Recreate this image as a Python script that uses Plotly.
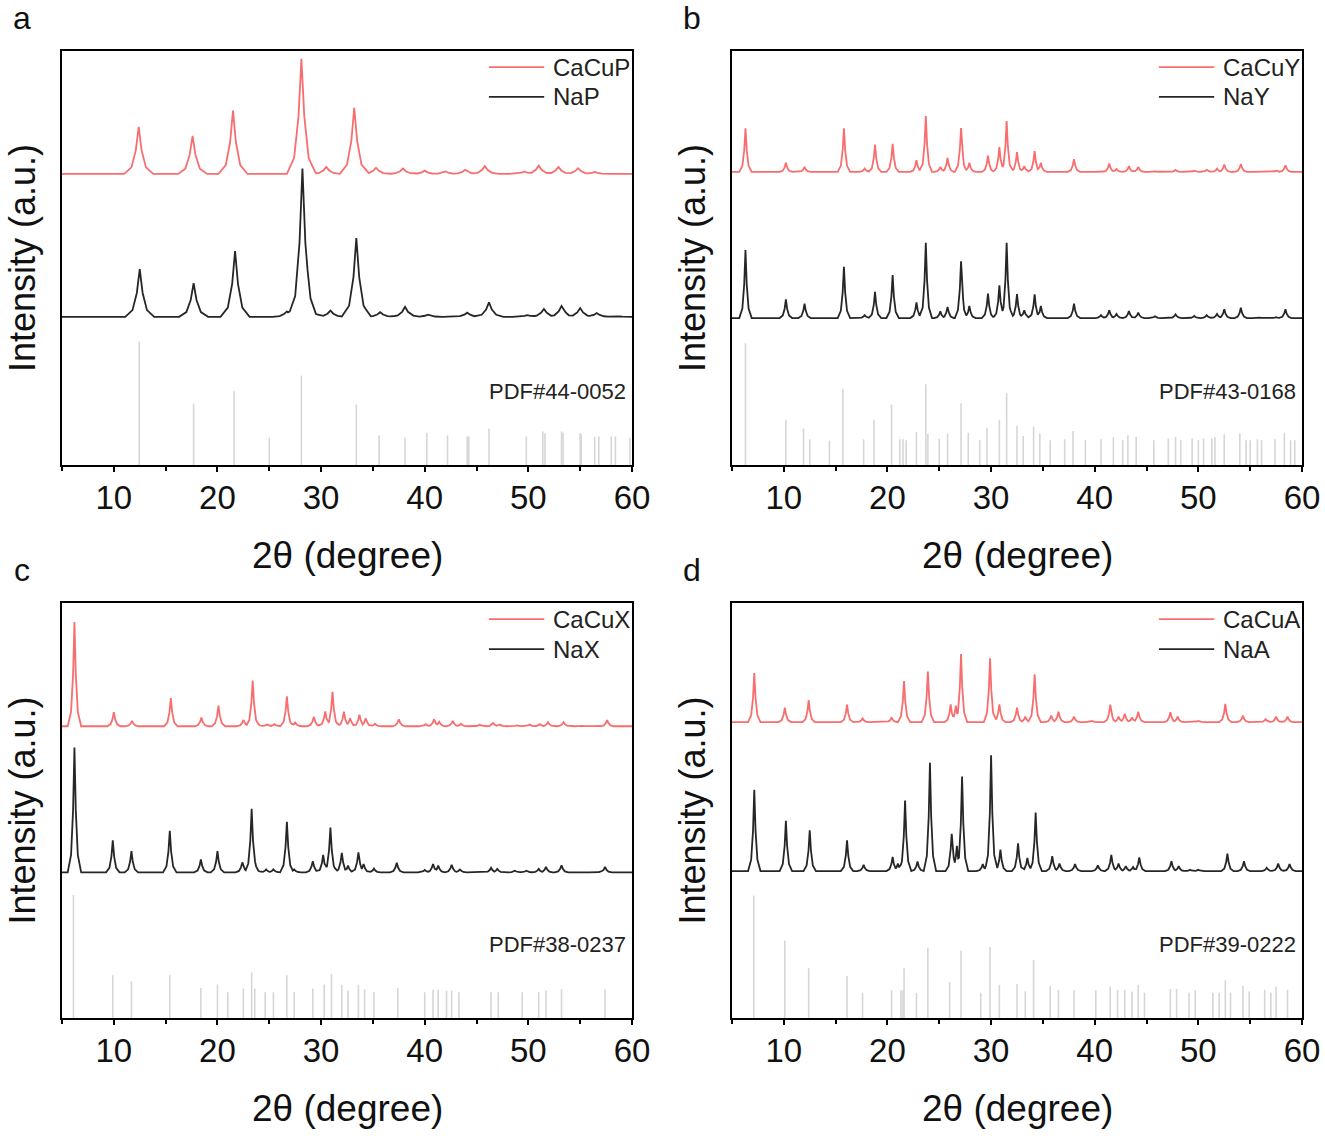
import numpy as np
import plotly.graph_objects as go
from plotly.subplots import make_subplots

# peak positions (2theta, deg) and apex levels (0-100 of panel height)

# panel a : CaCuP / NaP / PDF#44-0052
a_cacu_pos = [12.4, 17.6, 21.5, 28.1, 30.5, 33.2, 35.3, 37.9, 40.0, 42.0, 43.9, 45.8, 49.6, 51.0, 52.9, 54.8, 56.4]
a_cacu_top = [81.7, 79.5, 85.6, 98.1, 72.0, 86.3, 71.8, 71.6, 71.1, 70.9, 71.3, 72.2, 70.9, 72.3, 72.0, 71.7, 70.8]
a_cacu_base = 70.3
a_na_pos = [12.5, 17.7, 21.7, 26.7, 28.2, 28.7, 30.9, 33.4, 35.7, 38.1, 40.3, 44.1, 46.2, 49.9, 51.5, 53.2, 55.0, 56.6, 58.4]
a_na_top = [47.3, 43.9, 51.7, 37.1, 71.6, 41.5, 37.3, 54.8, 36.9, 38.2, 36.3, 36.8, 39.3, 36.2, 37.7, 38.4, 37.9, 36.7, 36.0]
a_na_base = 35.8
a_pdf_pos = [12.45, 17.7, 21.6, 25.0, 28.1, 33.4, 35.6, 38.1, 40.2, 42.2, 44.1, 44.25, 46.2, 49.8, 51.4,
             51.6, 53.2, 53.35, 55.0, 55.1, 56.4, 56.8, 58.0, 58.4, 59.8]
a_pdf_int = [29.8, 14.8, 17.8, 6.6, 21.6, 14.6, 7.1, 6.6, 7.7, 7.1, 6.9, 6.9, 8.8, 6.9, 8.1,
             7.6, 8.1, 7.8, 7.7, 7.4, 6.8, 6.9, 6.9, 6.9, 6.6]

# panel b : CaCuY / NaY / PDF#43-0168
b_pos = [6.3, 10.2, 12.0, 15.8, 17.8, 18.8, 20.5, 22.8, 23.7, 25.1, 25.8, 27.1, 27.9, 29.7, 30.8, 31.5, 32.5, 33.2,
         34.2, 34.8, 38.0, 40.6, 41.4, 42.1, 43.3, 44.2, 45.8, 47.8, 49.6, 50.8, 51.8, 52.5, 54.1, 55.8, 57.5, 58.4]
b_cacu_top = [81.3, 73.0, 72.0, 81.3, 71.6, 77.4, 77.6, 73.6, 84.3, 72.0, 74.2, 81.4, 73.0, 74.7, 76.8, 83.1, 75.6, 72.2,
              75.8, 73.0, 73.9, 71.0, 72.8, 71.5, 72.2, 72.0, 71.0, 71.3, 71.1, 71.3, 71.6, 72.6, 72.7, 70.9, 71.1, 72.4]
b_cacu_base = 70.8
b_na_top = [51.9, 40.0, 39.0, 47.9, 36.2, 41.8, 45.9, 39.3, 53.7, 37.1, 38.2, 49.2, 38.4, 41.4, 43.4, 53.7, 41.3, 37.4,
            41.2, 38.4, 39.0, 36.2, 37.4, 36.5, 37.2, 36.8, 35.9, 36.4, 36.0, 36.2, 36.5, 37.6, 38.0, 35.7, 35.7, 37.6]
b_na_base = 35.5
b_pdf_pos = [6.3, 10.2, 11.9, 12.5, 14.4, 15.7, 17.7, 18.7, 20.4, 21.2, 21.5, 21.8, 22.8, 23.7, 23.9, 25.0, 25.8, 27.1,
             27.8, 28.9, 29.6, 30.8, 31.5, 32.5, 33.1, 34.1, 34.7, 35.7, 37.1, 37.9, 39.1, 40.6, 41.8, 42.7, 43.2, 44.0,
             45.7, 47.1, 47.8, 48.3, 49.4, 50.0, 50.5, 51.3, 51.6, 52.5, 54.0, 54.6, 55.0, 55.7, 56.1, 57.4, 58.3, 58.9, 59.3]
b_pdf_int = [29.4, 10.9, 8.8, 6.2, 5.9, 18.3, 6.2, 10.9, 14.6, 6.2, 6.2, 6.0, 8.0, 19.5, 7.5, 6.4, 7.6, 14.9,
             7.8, 6.0, 9.0, 10.9, 17.3, 9.4, 7.0, 9.3, 7.6, 6.0, 6.2, 8.2, 6.0, 6.2, 6.7, 6.0, 7.2, 6.8,
             6.0, 6.4, 6.8, 6.0, 6.4, 6.0, 6.4, 6.4, 6.7, 7.4, 7.6, 6.0, 6.0, 6.2, 6.0, 6.2, 7.8, 6.0, 6.0]

# panel c : CaCuX / NaX / PDF#38-0237
c_cacu_pos = [6.2, 10.0, 11.75, 15.5, 18.45, 20.1, 22.5, 23.4, 23.7, 24.8, 25.5, 26.7, 27.5, 29.3, 30.4, 31.1, 32.2, 32.8, 33.7,
              34.3, 35.2, 37.5, 40.1, 40.9, 41.4, 42.7, 43.5, 45.3, 46.6, 47.2, 48.9, 50.1, 51.1, 51.9, 53.4, 55.1, 56.7, 57.6]
c_cacu_top = [95.4, 73.7, 71.6, 77.1, 72.4, 75.3, 71.8, 81.3, 72.0, 70.8, 70.8, 77.5, 71.2, 72.6, 73.9, 78.6, 73.8, 72.2, 73.1,
              72.2, 70.9, 72.0, 70.8, 72.0, 71.4, 71.6, 70.9, 70.7, 71.1, 70.8, 70.5, 70.7, 70.8, 71.3, 71.3, 70.5, 70.4, 71.8]
c_cacu_base = 70.3
c_na_pos = [6.2, 9.9, 11.7, 15.4, 18.4, 20.0, 22.4, 23.3, 23.6, 24.7, 25.4, 26.7, 27.4, 29.2, 30.2, 30.9, 32.0, 32.6, 33.6,
            34.1, 35.1, 37.3, 40.0, 40.8, 41.3, 42.6, 43.4, 46.4, 47.0, 48.7, 49.8, 51.0, 51.7, 53.2, 56.5, 57.4, 58.8]
c_na_top = [65.2, 42.8, 40.2, 45.1, 38.2, 40.2, 37.5, 50.4, 38.0, 35.8, 35.8, 47.3, 35.8, 37.8, 39.3, 45.9, 39.8, 36.7, 39.9,
            37.1, 36.0, 37.4, 35.7, 37.1, 36.7, 36.9, 35.8, 36.2, 35.9, 35.5, 35.5, 35.9, 36.4, 36.8, 35.3, 36.4, 35.2]
c_na_base = 35.1
c_pdf_pos = [6.1, 9.9, 11.7, 15.4, 18.4, 20.0, 21.0, 22.5, 23.3, 23.6, 24.6, 25.4, 26.7, 27.4, 29.2, 30.3, 31.0, 32.0,
             32.6, 33.6, 34.2, 35.1, 37.4, 40.0, 40.8, 41.3, 42.1, 42.6, 43.3, 46.4, 47.1, 49.4, 51.0, 51.7, 53.2, 57.4]
c_pdf_int = [29.6, 10.3, 8.8, 10.3, 7.2, 8.1, 6.2, 7.1, 11.0, 7.1, 6.2, 6.2, 10.3, 6.2, 7.1, 8.1, 10.6, 8.0,
             6.6, 8.0, 6.9, 6.2, 7.2, 6.2, 6.8, 6.8, 6.6, 6.6, 6.2, 6.2, 6.2, 6.2, 6.2, 6.6, 6.9, 6.9]

# panel d : CaCuA / NaA / PDF#39-0222
d_cacu_pos = [7.15, 10.1, 12.4, 16.1, 17.6, 20.4, 21.6, 23.9, 26.1, 26.6, 27.1, 29.9, 30.8, 32.5, 33.3, 34.2, 35.8,
              36.5, 38.0, 39.7, 41.5, 42.3, 42.9, 43.6, 44.2, 47.3, 48.0, 50.0, 52.6, 54.3, 56.5, 57.5, 58.6]
d_cacu_top = [83.1, 74.8, 76.6, 75.5, 72.2, 72.4, 81.2, 83.5, 75.6, 75.3, 87.7, 86.7, 75.6, 74.8, 72.6, 82.8, 72.9,
              73.8, 72.6, 71.6, 75.5, 72.6, 73.3, 72.4, 73.8, 73.7, 72.6, 71.6, 75.7, 72.9, 72.0, 72.6, 72.6]
d_cacu_base = 71.3
d_na_pos = [7.15, 10.2, 12.5, 16.1, 17.7, 20.5, 21.0, 21.7, 22.9, 24.1, 26.2, 26.7, 27.2, 29.2, 30.0, 30.9, 32.6, 33.5, 34.3,
            35.9, 36.6, 38.1, 40.3, 41.6, 42.3, 43.0, 43.7, 44.3, 47.4, 48.1, 49.2, 50.0, 52.8, 54.4, 56.6, 57.7, 58.8]
d_na_top = [55.0, 47.5, 45.2, 42.8, 36.9, 38.8, 37.2, 52.4, 37.7, 61.5, 44.4, 41.5, 58.2, 37.1, 63.3, 40.6, 42.1, 38.6, 49.5,
            39.0, 37.2, 37.1, 36.8, 39.3, 37.2, 36.6, 36.4, 38.7, 37.8, 36.6, 35.7, 35.7, 39.6, 37.8, 36.2, 37.2, 37.1]
d_na_base = 35.4
d_pdf_pos = [7.1, 10.1, 12.4, 16.1, 17.6, 20.4, 21.3, 21.5, 21.6, 22.8, 23.9, 26.0, 27.1, 29.0, 29.9, 30.8, 32.5, 33.3,
             34.1, 35.7, 36.5, 38.0, 40.1, 41.5, 42.2, 42.9, 43.6, 44.2, 44.8, 47.3, 47.9, 49.1, 49.7, 51.4, 52.0, 52.6,
             53.1, 54.3, 54.9, 56.4, 57.0, 57.5, 58.6]
d_pdf_int = [29.5, 18.7, 12.0, 10.1, 6.1, 6.7, 6.7, 6.7, 12.0, 6.0, 16.9, 8.6, 16.2, 6.0, 17.1, 8.0, 8.2, 6.4,
             14.0, 7.7, 6.8, 6.7, 6.7, 7.6, 6.8, 6.8, 6.4, 8.0, 6.1, 7.0, 7.0, 6.1, 6.7, 6.1, 6.1, 9.1,
             6.1, 7.7, 6.4, 6.8, 6.1, 7.6, 6.8]

tick_vals = [10, 20, 30, 40, 50, 60]

RED = "#F86E6E"
BLACK = "#262626"
GREY = "#D6D6D6"
FONT = "Liberation Sans, Arial, sans-serif"
W, H = 1325, 1136


def xrd_line(pos, top, base, hw):
    # each read peak drawn as a narrow polyline around its apex
    offs = np.array([-5, -2.5, -1, 0, 1, 2.5, 5]) * hw
    frac = np.array([0, 0.14, 0.5, 1, 0.5, 0.14, 0])
    xs = np.concatenate([[5.0, 60.0]] + [p + offs for p in pos])
    xs = np.unique(xs[(xs >= 5) & (xs <= 60)])
    ys = np.zeros_like(xs)
    for p, t in zip(pos, top):
        ys = np.maximum(ys, np.interp(xs, p + offs, max(t - base, 0) * frac, left=0, right=0))
    return xs, ys + base


def sticks(pos, height):
    xs, ys = [], []
    for p, h in zip(pos, height):
        xs += [p, p, None]
        ys += [0, h, None]
    return xs, ys


panels = [
    ("a", 1, 1, "CaCuP", a_cacu_pos, a_cacu_top, a_cacu_base, "NaP", a_na_pos, a_na_top, a_na_base,
     "PDF#44-0052", a_pdf_pos, a_pdf_int, 0.28),
    ("b", 1, 2, "CaCuY", b_pos, b_cacu_top, b_cacu_base, "NaY", b_pos, b_na_top, b_na_base,
     "PDF#43-0168", b_pdf_pos, b_pdf_int, 0.12),
    ("c", 2, 1, "CaCuX", c_cacu_pos, c_cacu_top, c_cacu_base, "NaX", c_na_pos, c_na_top, c_na_base,
     "PDF#38-0237", c_pdf_pos, c_pdf_int, 0.13),
    ("d", 2, 2, "CaCuA", d_cacu_pos, d_cacu_top, d_cacu_base, "NaA", d_na_pos, d_na_top, d_na_base,
     "PDF#39-0222", d_pdf_pos, d_pdf_int, 0.12),
]

# plot boxes in pixels: left, right, top, bottom
boxes = {"a": (62, 632, 51, 465), "b": (732, 1302, 51, 465),
         "c": (62, 632, 603, 1018), "d": (732, 1302, 603, 1018)}

fig = make_subplots(rows=2, cols=2)
annotations = []
shapes = []

for i, (letter, row, col, cname, cpos, ctop, cbase, nname, npos, ntop, nbase,
        pdfname, ppos, pint, hw) in enumerate(panels):
    x, y = xrd_line(cpos, ctop, cbase, hw)
    fig.add_trace(go.Scatter(x=x, y=y, mode="lines", name=cname, showlegend=False,
                             line=dict(color=RED, width=1.8)), row=row, col=col)
    x, y = xrd_line(npos, ntop, nbase, hw)
    fig.add_trace(go.Scatter(x=x, y=y, mode="lines", name=nname, showlegend=False,
                             line=dict(color=BLACK, width=1.8)), row=row, col=col)
    x, y = sticks(ppos, pint)
    fig.add_trace(go.Scatter(x=x, y=y, mode="lines", name=pdfname, showlegend=False,
                             line=dict(color=GREY, width=1.6)), row=row, col=col)

    l, r, t, b = boxes[letter]
    ax = "" if i == 0 else str(i + 1)
    fig.layout["xaxis" + ax].domain = [l / W, r / W]
    fig.layout["yaxis" + ax].domain = [(H - b) / H, (H - t) / H]

    xd = "x" + ax + " domain"
    yd = "y" + ax + " domain"
    # legend drawn by hand: sample line + label, two rows
    for name, color, yy in [(cname, RED, 0.961), (nname, BLACK, 0.889)]:
        shapes.append(dict(type="line", xref=xd, yref=yd, x0=0.749, x1=0.846, y0=yy, y1=yy,
                           line=dict(color=color, width=1.8)))
        annotations.append(dict(text=name, x=0.858, y=yy, xref=xd, yref=yd, xanchor="left",
                                yanchor="middle", showarrow=False,
                                font=dict(family=FONT, size=24, color="#222")))
    annotations.append(dict(text=pdfname, x=59.6, y=17.8, xref="x" + ax, yref="y" + ax, xanchor="right",
                            yanchor="middle", showarrow=False,
                            font=dict(family=FONT, size=22, color="#222")))
    annotations.append(dict(text="2θ (degree)", x=0.5, y=0, xref=xd, yref=yd,
                            yshift=-90, xanchor="center", yanchor="middle", showarrow=False,
                            font=dict(family=FONT, size=37, color="#111")))
    annotations.append(dict(text="Intensity (a.u.)", x=0, y=0.5, xref=xd, yref=yd,
                            xshift=-40, textangle=-90, xanchor="center", yanchor="middle", showarrow=False,
                            font=dict(family=FONT, size=36, color="#111")))
    annotations.append(dict(text=letter, x=(l - 40) / W, y=(H - t + 33) / H, xref="paper", yref="paper",
                            xanchor="center", yanchor="middle", showarrow=False,
                            font=dict(family=FONT, size=32, color="#111")))

fig.update_xaxes(range=[5, 60], tickvals=tick_vals, ticks="outside", ticklen=5, tickwidth=2,
                 tickcolor="black", showline=True, linecolor="black", linewidth=2, mirror=True,
                 showgrid=False, zeroline=False, automargin=False, ticklabelstandoff=-3,
                 tickfont=dict(family=FONT, size=33, color="#111"),
                 minor=dict(tickvals=[5, 15, 25, 35, 45, 55], ticks="outside", ticklen=4,
                            tickwidth=2, tickcolor="black"))
fig.update_yaxes(range=[0, 100], showticklabels=False, ticks="", showline=True, linecolor="black",
                 linewidth=2, mirror=True, showgrid=False, zeroline=False, automargin=False)

fig.update_layout(width=W, height=H, margin=dict(l=0, r=0, t=0, b=0),
                  plot_bgcolor="white", paper_bgcolor="white", showlegend=False,
                  annotations=annotations, shapes=shapes)

# drop the default page margin so the figure sits flush in the window
fig.write_html("out.html", config={"displayModeBar": False},
               post_script="document.body.style.margin='0';document.body.style.overflow='hidden';")
